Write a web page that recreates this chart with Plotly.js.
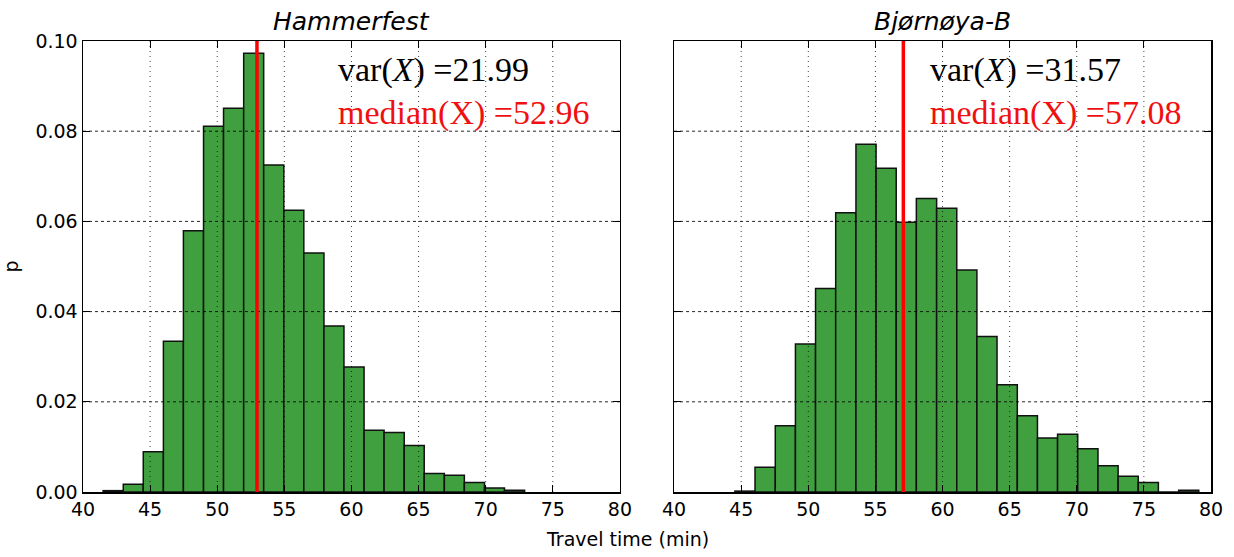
<!DOCTYPE html>
<html>
<head>
<meta charset="utf-8">
<script src="https://cdn.plot.ly/plotly-3.0.1.min.js"></script>
<style>html,body{margin:0;padding:0;background:#fff;}#chart{width:1234px;height:557px;}</style>
</head>
<body>
<div id="chart"></div>
<script>
// ---- data ----
const panelTitles = ["Hammerfest", "Bjørnøya-B"];

const hammerfestEdges = [41.50, 43.00, 44.49, 45.99, 47.48, 48.98, 50.47, 51.97, 53.46, 54.96, 56.45,
  57.95, 59.44, 60.94, 62.43, 63.93, 65.42, 66.92, 68.41, 69.91, 71.40, 72.90];
const hammerfestP = [0.0003, 0.0017, 0.0089, 0.0334, 0.0579, 0.0811, 0.0851, 0.0973, 0.0725, 0.0625,
  0.0530, 0.0368, 0.0277, 0.0137, 0.0132, 0.0103, 0.0041, 0.0037, 0.0021, 0.0009, 0.0004];

const bjornoyaEdges = [44.53, 46.03, 47.54, 49.04, 50.54, 52.04, 53.55, 55.05, 56.55, 58.05, 59.56,
  61.06, 62.56, 64.06, 65.57, 67.07, 68.57, 70.07, 71.58, 73.08, 74.58, 76.08, 77.59, 79.09];
const bjornoyaP = [0.0002, 0.0055, 0.0147, 0.0328, 0.0451, 0.0619, 0.0771, 0.0718, 0.0598, 0.0651,
  0.0629, 0.0492, 0.0345, 0.0238, 0.0169, 0.0120, 0.0128, 0.0096, 0.0058, 0.0035, 0.0021, 0.0000, 0.0004];

const variances = ["21.99", "31.57"];
const medians = [52.96, 57.08];

const xTicks = [40, 45, 50, 55, 60, 65, 70, 75, 80];
const yTicks = [0.00, 0.02, 0.04, 0.06, 0.08, 0.10];

// ---- build ----
function barTrace(edges, p, xa, ya) {
  const x = [], w = [];
  for (let i = 0; i < p.length; i++) { x.push(edges[i]); w.push(edges[i + 1] - edges[i]); }
  return {
    type: 'bar', x: x, y: p, width: w, offset: 0, xaxis: xa, yaxis: ya,
    marker: {color: '#40a040', line: {color: '#111', width: 1.5}},
    hoverinfo: 'x+y', showlegend: false
  };
}

const data = [
  barTrace(hammerfestEdges, hammerfestP, 'x', 'y'),
  barTrace(bjornoyaEdges, bjornoyaP, 'x2', 'y2')
];

const shapes = [];
const axesPairs = [['x', 'y'], ['x2', 'y2']];
axesPairs.forEach(([xa, ya]) => {
  xTicks.slice(1, -1).forEach(v => shapes.push({
    type: 'line', xref: xa, yref: ya, x0: v, x1: v, y0: yTicks[0], y1: yTicks[yTicks.length - 1],
    layer: 'above', line: {color: 'rgba(0,0,0,0.75)', width: 1, dash: '1px,4px'}
  }));
  yTicks.slice(1, -1).forEach(v => shapes.push({
    type: 'line', xref: xa, yref: ya, x0: xTicks[0], x1: xTicks[xTicks.length - 1], y0: v, y1: v,
    layer: 'above', line: {color: 'rgba(0,0,0,0.85)', width: 1, dash: '3px,3px'}
  }));
});
medians.forEach((m, i) => {
  const [xa, ya] = axesPairs[i];
  shapes.push({
    type: 'line', xref: xa, yref: ya, x0: m, x1: m, y0: yTicks[0], y1: yTicks[yTicks.length - 1],
    layer: 'above', line: {color: '#ff0000', width: 3.5}
  });
});

const serif = '"Liberation Serif", "Times New Roman", serif';
const annotations = [];
axesPairs.forEach(([xa, ya], i) => {
  annotations.push({
    xref: xa + ' domain', yref: 'paper', x: 0.5, y: 1, yanchor: 'bottom', yshift: 3,
    text: '<i>' + panelTitles[i] + '</i>', showarrow: false,
    font: {family: 'DejaVu Sans', size: 25, color: '#000'}
  });
  annotations.push({
    xref: xa + ' domain', yref: ya + ' domain', x: 0.472, y: 0.936, xanchor: 'left', yanchor: 'middle',
    text: 'var(<i>X</i>) =' + variances[i], showarrow: false,
    font: {family: serif, size: 34, color: '#000'}
  });
  annotations.push({
    xref: xa + ' domain', yref: ya + ' domain', x: 0.472, y: 0.84, xanchor: 'left', yanchor: 'middle',
    text: 'median(X) =' + medians[i].toFixed(2), showarrow: false,
    font: {family: serif, size: 34, color: '#f01010'}
  });
});
annotations.push({
  xref: 'paper', yref: 'paper', x: 0.483, y: 0, yanchor: 'top', yshift: -34,
  text: 'Travel time (min)', showarrow: false, font: {family: 'DejaVu Sans', size: 19, color: '#000'}
});

function xAxis(domain, anchor) {
  return {
    domain: domain, anchor: anchor, range: [xTicks[0], xTicks[xTicks.length - 1]],
    tickvals: xTicks, ticktext: xTicks.map(String), ticks: 'inside', ticklen: 7, tickwidth: 1,
    tickcolor: '#000', showline: true, linecolor: '#000', linewidth: 1.5, mirror: 'ticks',
    showgrid: false, zeroline: false, fixedrange: true,
    tickfont: {family: 'DejaVu Sans', size: 19, color: '#000'}
  };
}
function yAxis(anchor, labels) {
  return {
    domain: [0, 1], anchor: anchor, range: [yTicks[0], yTicks[yTicks.length - 1]],
    tickvals: yTicks, ticktext: yTicks.map(v => v.toFixed(2)), showticklabels: labels,
    ticks: 'inside', ticklen: 7, tickwidth: 1, tickcolor: '#000',
    showline: true, linecolor: '#000', linewidth: 1.5, mirror: 'ticks',
    showgrid: false, zeroline: false, fixedrange: true,
    tickfont: {family: 'DejaVu Sans', size: 19, color: '#000'}
  };
}

const layout = {
  width: 1234, height: 557,
  margin: {l: 83, r: 23, t: 41, b: 65},
  paper_bgcolor: '#fff', plot_bgcolor: '#fff',
  bargap: 0,
  xaxis: xAxis([0, 0.476], 'y'),
  yaxis: Object.assign(yAxis('x', true), {
    title: {text: 'p', font: {family: 'DejaVu Sans', size: 19, color: '#000'}, standoff: 12}
  }),
  xaxis2: xAxis([0.524, 1], 'y2'),
  yaxis2: yAxis('x2', false),
  shapes: shapes,
  annotations: annotations
};

Plotly.newPlot('chart', data, layout, {displayModeBar: false, staticPlot: true});
</script>
</body>
</html>
